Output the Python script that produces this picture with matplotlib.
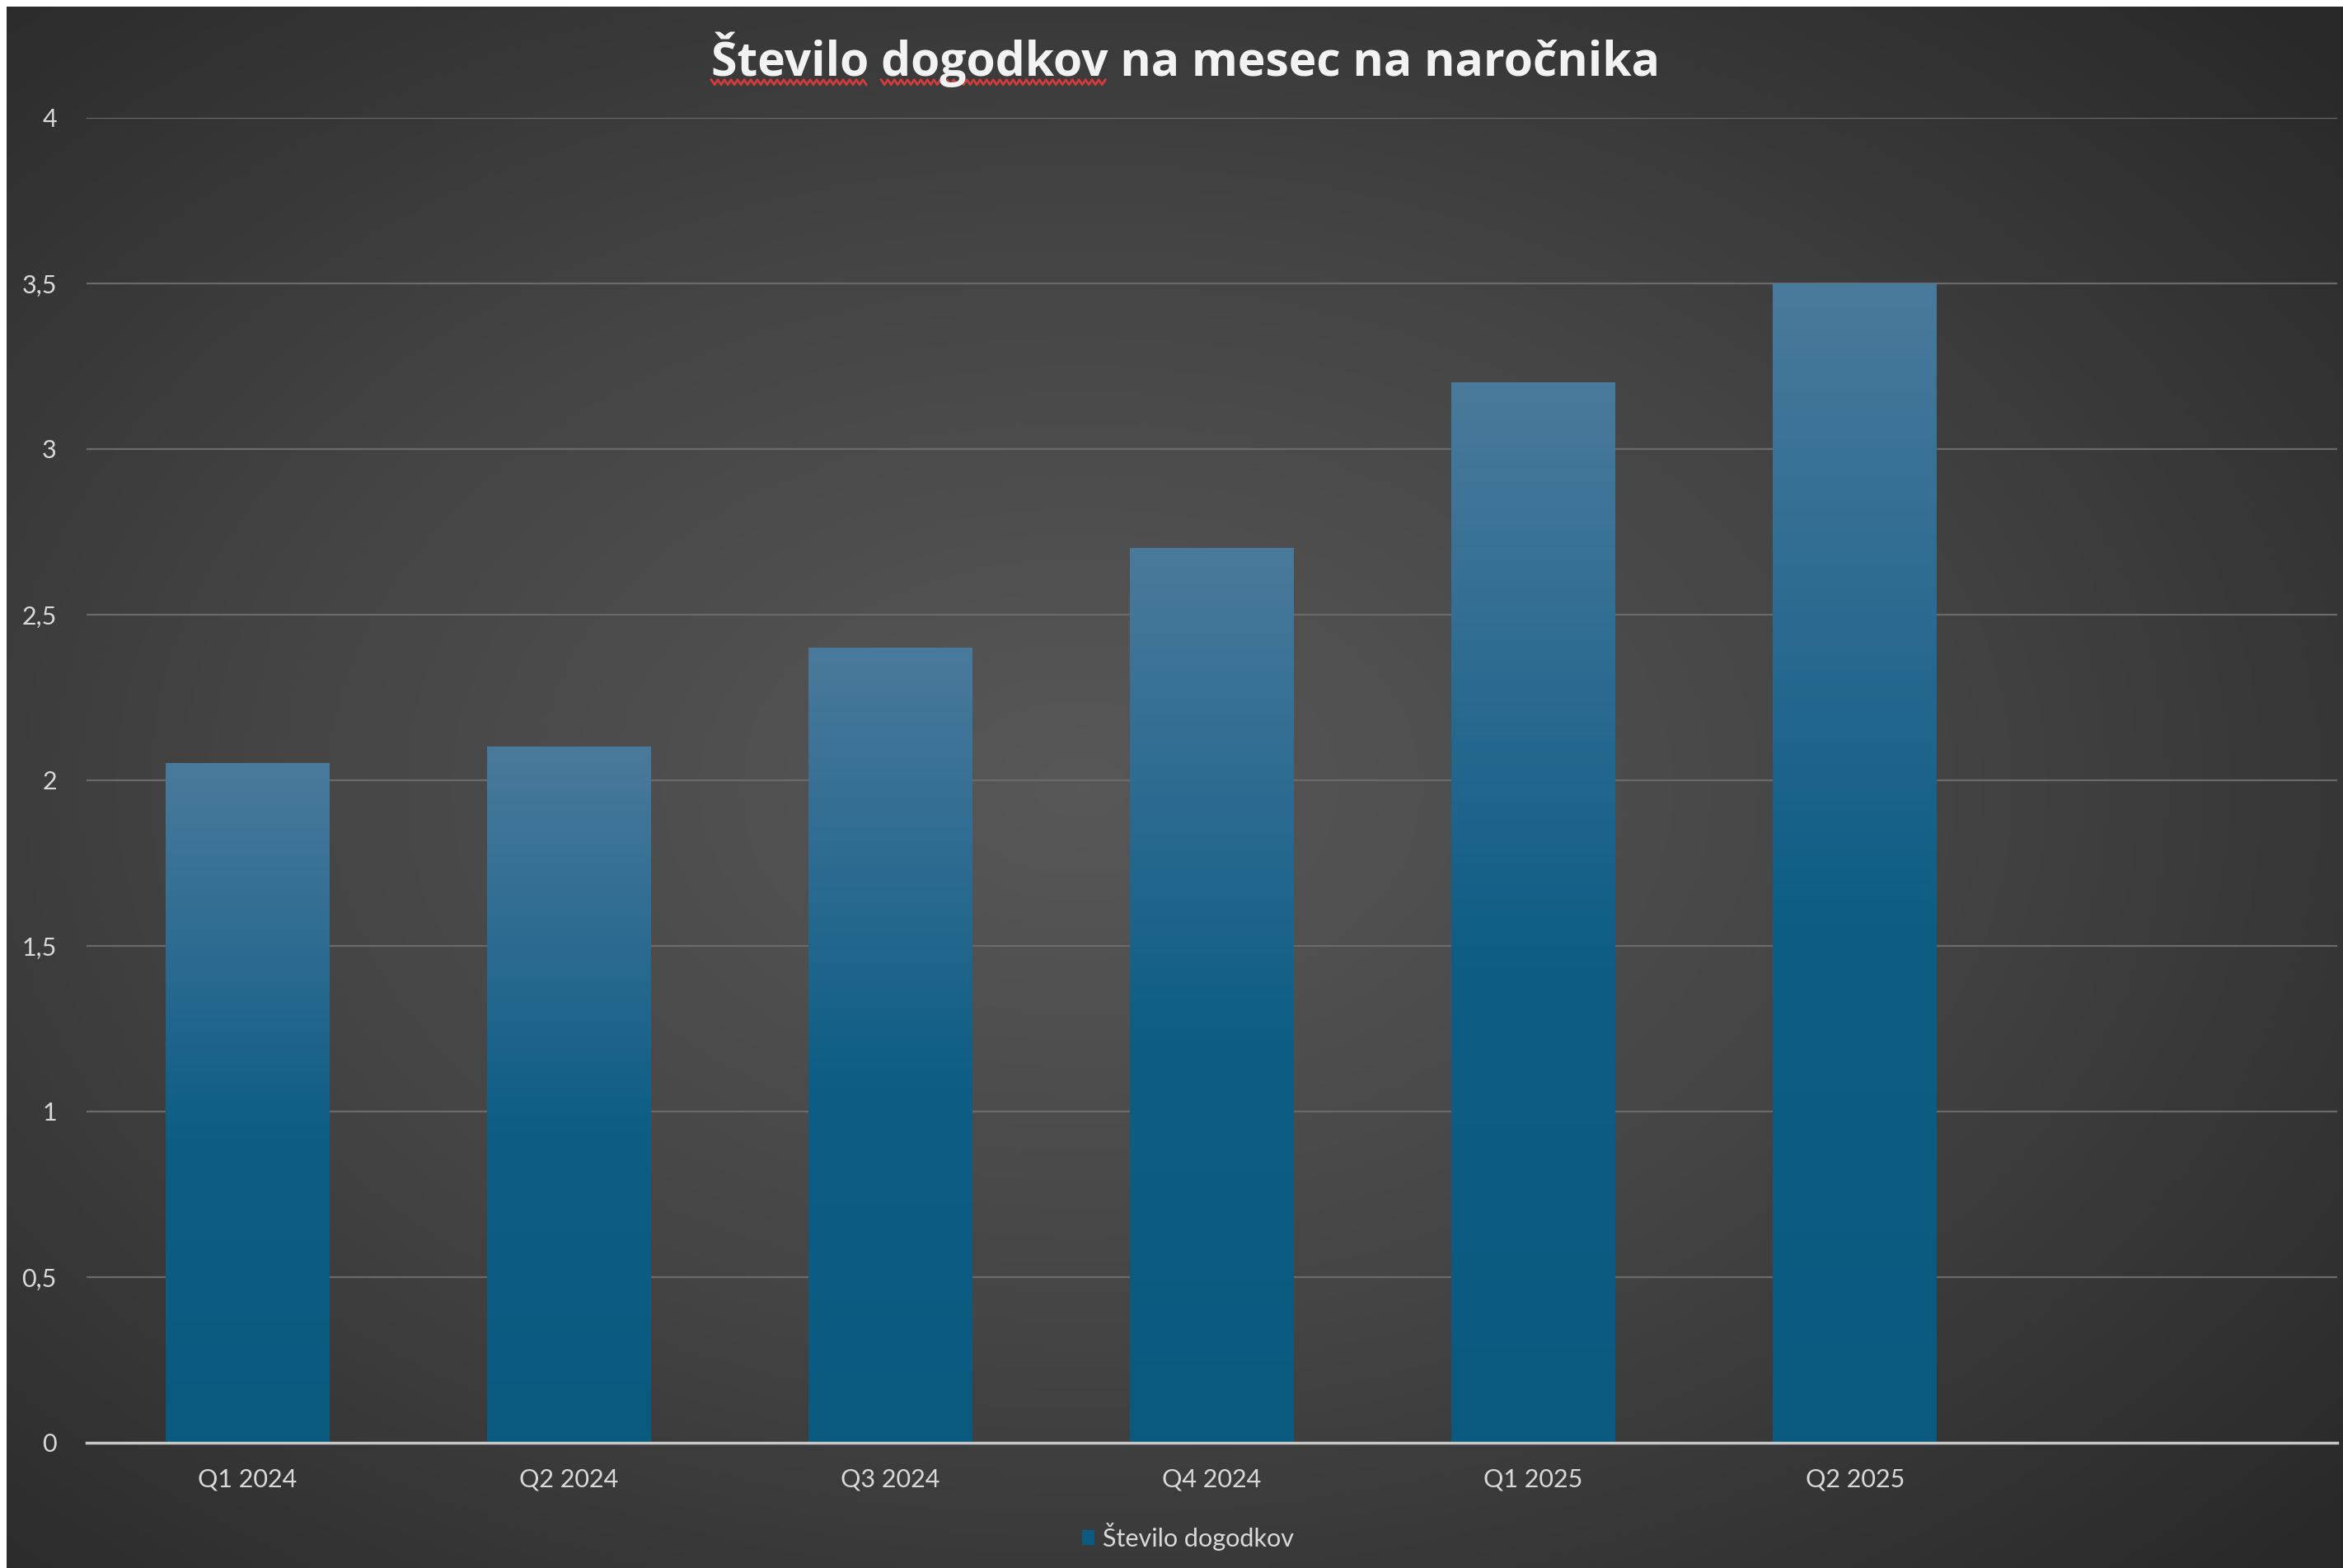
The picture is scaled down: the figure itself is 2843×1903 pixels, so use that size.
import matplotlib
matplotlib.use('Agg')
import matplotlib.pyplot as plt
from matplotlib.colors import LinearSegmentedColormap
from matplotlib.lines import Line2D
import numpy as np

categories = ['Q1 2024', 'Q2 2024', 'Q3 2024', 'Q4 2024', 'Q1 2025', 'Q2 2025']
values = [2.05, 2.1, 2.4, 2.7, 3.2, 3.5]
series_name = 'Število dogodkov'
title = 'Število dogodkov na mesec na naročnika'
misspelled = ['Število', 'Število dogodkov']  # spell-check squiggle under these words
yticks = [0, 0.5, 1, 1.5, 2, 2.5, 3, 3.5, 4]
ytick_labels = ['0', '0,5', '1', '1,5', '2', '2,5', '3', '3,5', '4']

plt.rcParams['font.family'] = ['Lato', 'DejaVu Sans']

W, H = 2843, 1903
fig = plt.figure(figsize=(W / 100, H / 100), dpi=100, facecolor='white')

# dark radial background (chart area, white strip at left/top)
bg = fig.add_axes([8 / W, 0, 1 - 8 / W, 1 - 8 / H], zorder=0)
yy, xx = np.mgrid[0:1:400j, 0:1:600j]
r = np.sqrt(((xx - 0.46) / 0.72) ** 2 + ((yy - 0.5) / 0.72) ** 2)
r = np.clip(r, 0, 1)
bg_cmap = LinearSegmentedColormap.from_list('bg', ['#585858', '#444444', '#292929'])
bg.imshow(r, cmap=bg_cmap, vmin=0, vmax=1, aspect='auto', extent=(0, 1, 0, 1), origin='lower')
bg.axis('off')

ax = fig.add_axes([105 / W, 1 - 1751 / H, (2836 - 105) / W, (1751 - 143) / H], zorder=1)
ax.patch.set_alpha(0)

x = np.arange(len(categories))
bars = ax.bar(x, values, width=0.51, color='#0b5a80', edgecolor='none', zorder=2, label=series_name)

# vertical gradient per bar: light steel blue at top, deep blue lower down
bar_cmap = LinearSegmentedColormap.from_list('bar', [(0, '#0a5a80'), (0.45, '#0d5d85'), (0.72, '#2c6b91'), (1, '#4a7a9b')])
grad = np.linspace(0, 1, 256).reshape(-1, 1)
for b in bars:
    x0, w, h = b.get_x(), b.get_width(), b.get_height()
    ax.imshow(grad, cmap=bar_cmap, aspect='auto', extent=(x0, x0 + w, 0, h), origin='lower', zorder=2.5)

ax.set_xlim(-0.5, len(categories) + 0.5)
ax.set_ylim(0, 4)
ax.set_yticks(yticks)
ax.set_yticklabels(ytick_labels)
ax.set_xticks(x)
ax.set_xticklabels(categories)
ax.grid(axis='y', color='#6a6a6a', linewidth=1.6, zorder=1)
ax.set_axisbelow(True)
for s in ['top', 'right', 'left']:
    ax.spines[s].set_visible(False)
ax.spines['bottom'].set_color('#c8c8c8')
ax.spines['bottom'].set_linewidth(2.5)
ax.spines['bottom'].set_zorder(3)
ax.tick_params(axis='both', length=0, labelsize=22, colors='#d9d9d9')
ax.tick_params(axis='y', pad=26)
ax.tick_params(axis='x', pad=22)

title_kw = dict(fontsize=41, fontweight='bold', color='#f2f2f2', family=['Open Sans', 'DejaVu Sans'])
t = fig.text(0.506, 1 - 72 / H, title, ha='center', va='center', **title_kw)

leg = fig.legend(handles=[bars], labels=[series_name], loc='center', bbox_to_anchor=(0.507, 1 - 1865 / H),
                 frameon=False, fontsize=22, handlelength=0.5, handleheight=0.5, handletextpad=0.3)
for lt in leg.get_texts():
    lt.set_color('#d9d9d9')

# red wavy spell-check underline below the first two words
fig.canvas.draw()
rend = fig.canvas.get_renderer()
tb = t.get_window_extent(rend)
def text_width(s):
    tmp = fig.text(0, 0, s, **title_kw)
    wdt = tmp.get_window_extent(rend).width
    tmp.remove()
    return wdt
w_first = text_width(misspelled[0])
w_space = text_width(misspelled[0] + ' ')
w_both = text_width(misspelled[1])
y_sq = tb.y0 + 6
for xa, xb in [(tb.x0, tb.x0 + w_first), (tb.x0 + w_space, tb.x0 + w_both)]:
    xs = np.arange(xa, xb, 4.0)
    ys = y_sq + np.where(np.arange(len(xs)) % 2 == 0, 3.0, -3.0)
    pts = fig.transFigure.inverted().transform(np.column_stack([xs, ys]))
    fig.add_artist(Line2D(pts[:, 0], pts[:, 1], color='#d23c3c', linewidth=2.0, transform=fig.transFigure))

fig.savefig('out.png', dpi=100, facecolor='white')
